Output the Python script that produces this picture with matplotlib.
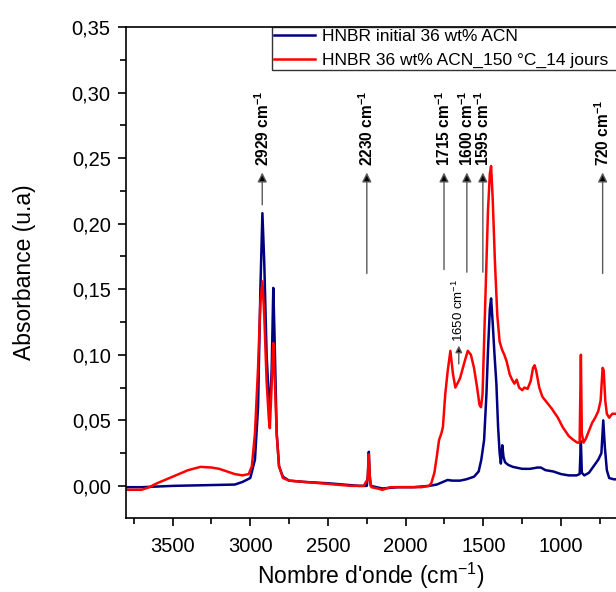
import numpy as np
import matplotlib
matplotlib.use("Agg")
import matplotlib.pyplot as plt
from matplotlib.ticker import MultipleLocator, FuncFormatter

plt.rcParams['font.family'] = ['Liberation Sans', 'DejaVu Sans']
plt.rcParams['mathtext.fontset'] = 'custom'
plt.rcParams['mathtext.rm'] = 'Liberation Sans'
plt.rcParams['mathtext.it'] = 'Liberation Sans:italic'
plt.rcParams['mathtext.bf'] = 'Liberation Sans:bold'

# spectra (wavenumber cm-1, absorbance)
wn_init = [3800, 3700, 3500, 3300, 3100, 3050, 3000, 2970, 2950, 2935, 2922, 2910, 2895,
           2880, 2872, 2862, 2852, 2845, 2830, 2815, 2790, 2750, 2650, 2500, 2400, 2300,
           2250, 2243, 2237, 2231, 2225, 2150, 2050, 1950, 1850, 1800, 1760, 1730, 1700,
           1650, 1610, 1560, 1530, 1513, 1495, 1480, 1470, 1458, 1450, 1440, 1428, 1416,
           1405, 1395, 1387, 1378, 1370, 1360, 1340, 1310, 1250, 1200, 1150, 1130, 1100,
           1050, 1000, 950, 900, 880, 872, 866, 850, 820, 790, 760, 740, 728, 718, 705,
           690, 660, 646]
abs_init = [-0.001, -0.001, 0.0, 0.0005, 0.001, 0.003, 0.006, 0.02, 0.06, 0.15, 0.208, 0.17, 0.1,
            0.065, 0.06, 0.09, 0.151, 0.12, 0.04, 0.015, 0.007, 0.004, 0.003, 0.002, 0.001, 0.0,
            0.0, 0.008, 0.026, 0.008, 0.0, -0.002, -0.001, -0.001, 0.0, 0.001, 0.003, 0.0045, 0.004,
            0.004, 0.005, 0.007, 0.011, 0.02, 0.035, 0.07, 0.103, 0.135, 0.143, 0.125, 0.1, 0.078,
            0.045, 0.025, 0.017, 0.031, 0.022, 0.018, 0.016, 0.0145, 0.013, 0.013, 0.014, 0.014, 0.012,
            0.011, 0.009, 0.008, 0.008, 0.009, 0.034, 0.01, 0.008, 0.01, 0.015, 0.02, 0.025, 0.05, 0.03, 0.012,
            0.006, 0.005, 0.005]

wn_aged = [3800, 3700, 3650, 3600, 3500, 3400, 3320, 3250, 3200, 3150, 3100, 3050, 3010, 2990,
           2970, 2950, 2935, 2922, 2910, 2895, 2880, 2874, 2865, 2852, 2845, 2830, 2815, 2790,
           2750, 2650, 2550, 2450, 2350, 2270, 2245, 2237, 2230, 2220, 2180, 2150, 2100, 2000,
           1900, 1850, 1835, 1815, 1800, 1785, 1770, 1760, 1745, 1729, 1712, 1695, 1680, 1650,
           1620, 1600, 1580, 1560, 1540, 1525, 1515, 1505, 1495, 1485, 1470, 1458, 1450, 1440,
           1425, 1410, 1395, 1380, 1365, 1350, 1330, 1315, 1300, 1285, 1270, 1250, 1235, 1215,
           1195, 1180, 1170, 1160, 1140, 1120, 1100, 1060, 1020, 990, 950, 920, 895, 880, 872,
           866, 855, 840, 820, 800, 780, 760, 745, 732, 725, 715, 705, 690, 670, 646]
abs_aged = [-0.003, -0.003, -0.001, 0.002, 0.007, 0.012, 0.0145, 0.014, 0.013, 0.011, 0.009, 0.008, 0.009, 0.015,
            0.04, 0.09, 0.14, 0.156, 0.13, 0.08, 0.05, 0.044, 0.07, 0.109, 0.09, 0.04, 0.015, 0.006,
            0.004, 0.003, 0.002, 0.001, 0.0, 0.0, 0.005, 0.024, 0.005, -0.001, -0.002, -0.003, -0.001, -0.001,
            -0.001, 0.0, 0.002, 0.01, 0.022, 0.035, 0.04, 0.045, 0.07, 0.088, 0.103, 0.085, 0.075, 0.082,
            0.095, 0.103, 0.1, 0.09, 0.075, 0.062, 0.06, 0.07, 0.11, 0.15, 0.21, 0.238, 0.244, 0.22,
            0.17, 0.13, 0.11, 0.104, 0.1, 0.095, 0.085, 0.081, 0.078, 0.081, 0.075, 0.073, 0.075, 0.074,
            0.08, 0.09, 0.092, 0.088, 0.075, 0.068, 0.065, 0.059, 0.052, 0.045, 0.038, 0.035, 0.033, 0.033, 0.1,
            0.04, 0.033, 0.036, 0.042, 0.048, 0.052, 0.057, 0.065, 0.09, 0.088, 0.065, 0.055, 0.052, 0.055, 0.055]

# band annotations
band_labels = ['2929', '2230', '1715', '1600', '1595', '720']
band_pos = [2923, 2250, 1753, 1606, 1503, 732]
band_base = [0.2144, 0.162, 0.165, 0.163, 0.163, 0.162]
arrow_tip = 0.239

small_label = '1650'
small_pos = 1658
small_base = 0.093
small_tip = 0.107

fig = plt.figure(figsize=(6.16, 5.92), dpi=100)
ax = fig.add_axes([126 / 616, 74 / 592, 1 - 126 / 616, (518 - 27) / 592])

ax.plot(wn_init, abs_init, color='#000080', lw=1.8, label='HNBR initial 36 wt% ACN')
ax.plot(wn_aged, abs_aged, color='#ff0000', lw=1.8, label='HNBR 36 wt% ACN_150 °C_14 jours')

ax.set_xlim(3800, 646)
ax.set_ylim(-0.0245, 0.35)

arrow_kw = dict(arrowstyle='-|>', color='0.35', fc='k', ec='0.35', lw=1.0,
                mutation_scale=14, shrinkA=0, shrinkB=0)
for lab, x, y0 in zip(band_labels, band_pos, band_base):
    ax.annotate('', xy=(x, arrow_tip), xytext=(x, y0), arrowprops=arrow_kw)
    ax.text(x, arrow_tip + 0.005, lab + r' cm$^{\mathbf{-1}}$', rotation=90,
            ha='center', va='bottom', fontsize=11.2, fontweight='bold')

ax.annotate('', xy=(small_pos, small_tip), xytext=(small_pos, small_base),
            arrowprops=dict(arrow_kw, mutation_scale=10))
ax.text(small_pos + 5, small_tip + 0.003, small_label + r' cm$^{-1}$', rotation=90,
        ha='center', va='bottom', fontsize=9.5)

ax.xaxis.set_major_locator(MultipleLocator(500))
ax.xaxis.set_minor_locator(MultipleLocator(250))
ax.yaxis.set_major_locator(MultipleLocator(0.05))
ax.yaxis.set_minor_locator(MultipleLocator(0.025))
ax.yaxis.set_major_formatter(FuncFormatter(lambda v, p: f'{v:.2f}'.replace('.', ',')))

ax.tick_params(which='both', direction='out', width=1.2, labelsize=14.5, top=False, right=False)
ax.tick_params(which='major', length=6)
ax.tick_params(which='minor', length=4)
ax.tick_params(axis='x', pad=8)
ax.tick_params(axis='y', pad=5)
ax.spines['right'].set_visible(False)
for s in ['left', 'bottom', 'top']:
    ax.spines[s].set_linewidth(1.2)

ax.set_xlabel(r"Nombre d'onde (cm$^{-1}$)", fontsize=16.5, labelpad=3)
ax.set_ylabel('Absorbance (u.a)', fontsize=16.5, labelpad=26)

leg = ax.legend(loc='upper left', bbox_to_anchor=((272 - 126) / 490, 0, 0.75, 1.0), mode='expand',
                borderaxespad=0, fontsize=12.5, frameon=True, fancybox=False, edgecolor='k',
                handlelength=2.4, handletextpad=0.4, labelspacing=0.5, borderpad=0.1)
leg.get_frame().set_linewidth(1.0)

fig.savefig('out.png', dpi=100)
